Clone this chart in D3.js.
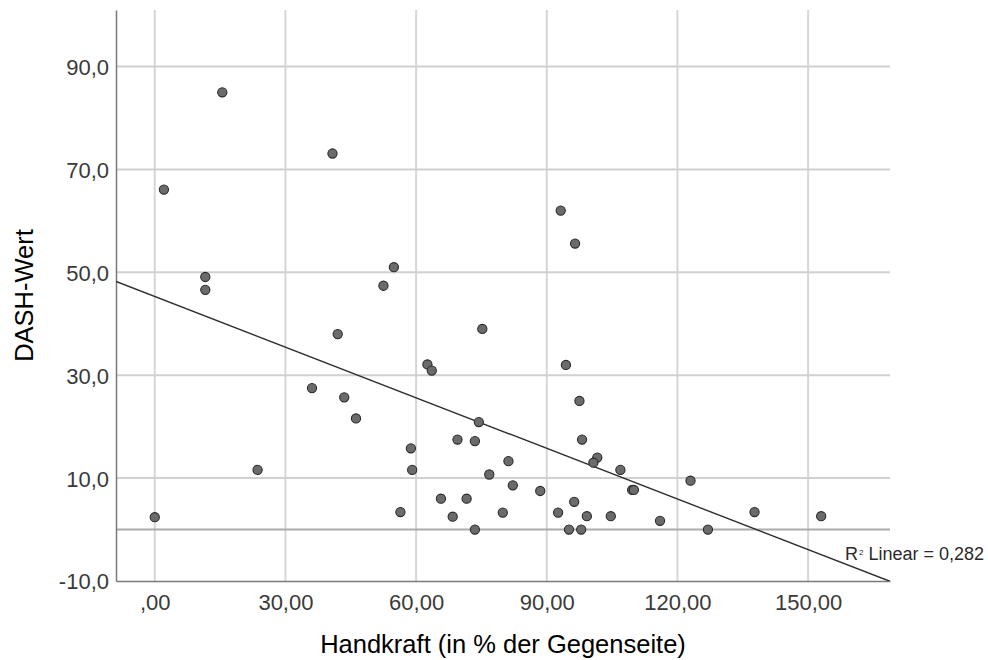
<!DOCTYPE html>
<html>
<head>
<meta charset="utf-8">
<script src="https://cdn.jsdelivr.net/npm/d3@7"></script>
<style>
  html, body { margin: 0; padding: 0; background: #fff; }
  svg { display: block; font-family: "Liberation Sans", Arial, sans-serif; }
</style>
</head>
<body>
<svg id="chart" width="988" height="660"></svg>
<script>
// Handkraft (% der Gegenseite) vs. DASH-Wert, one entry per patient
const handkraft = [
  0.0, 2.1, 15.5, 11.6, 11.6, 23.6, 40.8, 42.0, 36.1, 43.5,
  46.2, 52.5, 54.9, 56.4, 93.2, 96.5, 75.2, 62.6, 63.6, 94.4,
  97.5, 74.4, 69.5, 73.5, 98.1, 58.8, 101.6, 100.7, 81.2, 106.9,
  59.1, 76.8, 123.0, 82.2, 88.5, 109.6, 110.0, 65.7, 71.6, 96.3,
  68.4, 79.9, 92.6, 99.2, 104.7, 116.0, 73.5, 95.1, 97.9, 127.0,
  137.7, 153.0
];
const dashWert = [
  2.4, 66.1, 85.0, 49.1, 46.6, 11.6, 73.1, 38.0, 27.5, 25.7,
  21.6, 47.4, 51.0, 3.4, 62.0, 55.6, 39.0, 32.1, 30.9, 32.0,
  25.0, 20.9, 17.5, 17.2, 17.5, 15.8, 14.0, 13.0, 13.3, 11.6,
  11.6, 10.7, 9.5, 8.6, 7.5, 7.7, 7.7, 6.0, 6.0, 5.4,
  2.5, 3.3, 3.3, 2.6, 2.6, 1.7, 0.0, 0.0, 0.0, 0.0,
  3.4, 2.6
];

// Linear fit line and its R²
const fitIntercept = 45.3;
const fitSlope = -0.328;
const rSquared = 0.282;

// Axis ticks and their labels
const xTicks = [0, 30, 60, 90, 120, 150];
const xTickLabels = [",00", "30,00", "60,00", "90,00", "120,00", "150,00"];
const yTicks = [-10, 10, 30, 50, 70, 90];
const yTickLabels = ["-10,0", "10,0", "30,0", "50,0", "70,0", "90,0"];
const yReference = 0;

const xDomain = [-8.9, 168.8];
const yDomain = [-10, 101];

const W = 988, H = 660;
const margin = { top: 10, right: 98, bottom: 79, left: 116 };
const innerW = W - margin.left - margin.right;
const innerH = H - margin.top - margin.bottom;

const svg = d3.select("#chart");
const g = svg.append("g").attr("transform", `translate(${margin.left},${margin.top})`);

const x = d3.scaleLinear().domain(xDomain).range([0, innerW]);
const y = d3.scaleLinear().domain(yDomain).range([innerH, 0]);

// grid lines
g.append("g").selectAll("line.vg").data(xTicks).join("line")
  .attr("x1", d => x(d)).attr("x2", d => x(d))
  .attr("y1", 0).attr("y2", innerH)
  .attr("stroke", "#d6d6d6").attr("stroke-width", 2);

g.append("g").selectAll("line.hg").data(yTicks.filter(d => d > yDomain[0])).join("line")
  .attr("x1", 0).attr("x2", innerW)
  .attr("y1", d => y(d)).attr("y2", d => y(d))
  .attr("stroke", "#d0d0d0").attr("stroke-width", 2);

// reference line at 0
g.append("line")
  .attr("x1", 0).attr("x2", innerW)
  .attr("y1", y(yReference)).attr("y2", y(yReference))
  .attr("stroke", "#ababab").attr("stroke-width", 2);

// axes
const xAxis = d3.axisBottom(x)
  .tickValues(xTicks)
  .tickFormat((d, i) => xTickLabels[i])
  .tickSize(0).tickSizeOuter(0).tickPadding(13);
const yAxis = d3.axisLeft(y)
  .tickValues(yTicks)
  .tickFormat((d, i) => yTickLabels[i])
  .tickSize(0).tickSizeOuter(0).tickPadding(7);

const gx = g.append("g").attr("transform", `translate(0,${innerH})`).call(xAxis);
const gy = g.append("g").call(yAxis);

[gx, gy].forEach(a => {
  a.select(".domain").attr("stroke", "#7a7a7a").attr("stroke-width", 1.5);
  a.selectAll("text").attr("fill", "#3a3a3a").attr("font-size", 22)
    .attr("font-family", "'Liberation Sans', Arial, sans-serif");
});
gx.selectAll("text").attr("dy", "0.71em");
gy.selectAll("text").attr("dy", "0.36em");

// regression line, clipped to the plotting area
g.append("clipPath").attr("id", "plotClip")
  .append("rect").attr("width", innerW).attr("height", innerH);

const fitLine = d3.line()
  .x(d => x(d))
  .y(d => y(fitIntercept + fitSlope * d));
g.append("path")
  .datum(xDomain)
  .attr("clip-path", "url(#plotClip)")
  .attr("d", fitLine)
  .attr("fill", "none")
  .attr("stroke", "#2e2e2e")
  .attr("stroke-width", 1.4);

// points
g.append("g").selectAll("circle").data(d3.range(handkraft.length)).join("circle")
  .attr("cx", i => x(handkraft[i]))
  .attr("cy", i => y(dashWert[i]))
  .attr("r", 4.6)
  .attr("fill", "#6b6b6b")
  .attr("stroke", "#2a2a2a")
  .attr("stroke-width", 1.1);

// R² annotation
const r2 = g.append("text")
  .attr("x", innerW - 45)
  .attr("y", innerH - 21)
  .attr("font-size", 18)
  .attr("fill", "#2a2a2a");
r2.append("tspan").text("R");
r2.append("tspan").attr("font-size", 8).attr("dy", -5).attr("dx", 1).text("2");
r2.append("tspan").attr("dy", 5).text(" Linear = " + d3.format(".3f")(rSquared).replace(".", ","));

// axis titles
svg.append("text")
  .attr("x", margin.left + innerW / 2)
  .attr("y", 653)
  .attr("text-anchor", "middle")
  .attr("font-size", 25.5)
  .attr("fill", "#000")
  .text("Handkraft (in % der Gegenseite)");

svg.append("text")
  .attr("transform", `translate(33,${margin.top + innerH / 2}) rotate(-90)`)
  .attr("text-anchor", "middle")
  .attr("font-size", 25.5)
  .attr("fill", "#000")
  .text("DASH-Wert");
</script>
</body>
</html>
